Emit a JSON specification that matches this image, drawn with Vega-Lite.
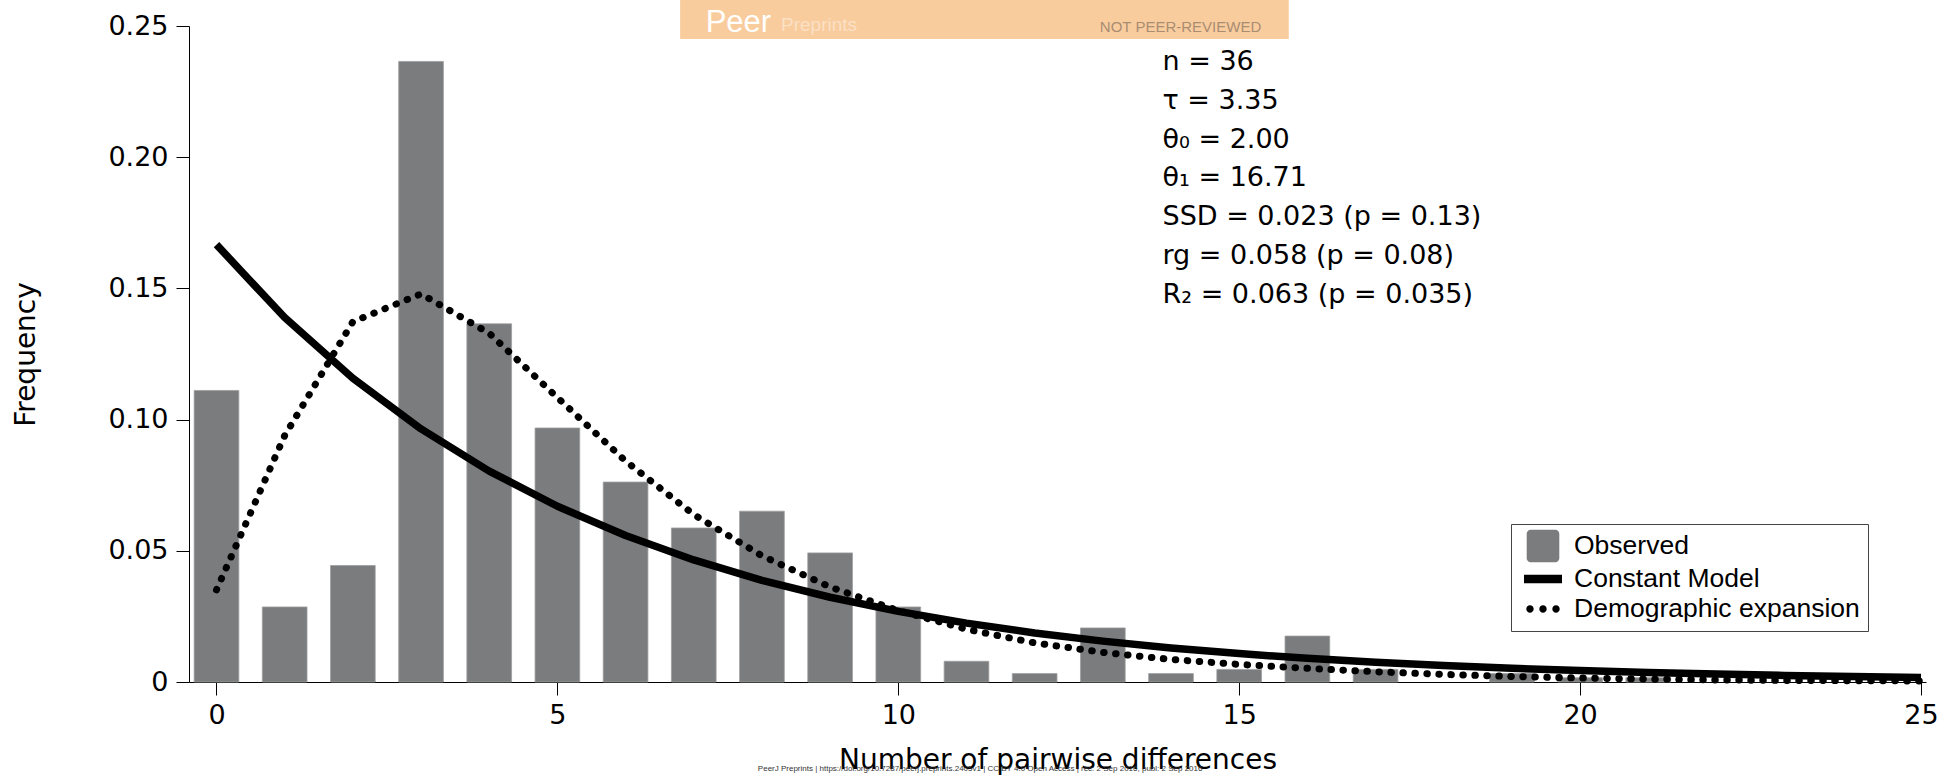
{
  "$schema": "https://vega.github.io/schema/vega-lite/v6.json",
  "width": 1737,
  "height": 656,
  "autosize": {"type": "none"},
  "padding": {"left": 189, "top": 26, "right": 25, "bottom": 98},
  "background": "white",
  "config": {"view": {"stroke": null}, "font": "DejaVu Sans"},
  "datasets": {
    "observed": [
      {"n": 0, "freq": 0.1111, "series": "Observed"},
      {"n": 1, "freq": 0.0286, "series": "Observed"},
      {"n": 2, "freq": 0.0444, "series": "Observed"},
      {"n": 3, "freq": 0.2365, "series": "Observed"},
      {"n": 4, "freq": 0.1365, "series": "Observed"},
      {"n": 5, "freq": 0.0968, "series": "Observed"},
      {"n": 6, "freq": 0.0762, "series": "Observed"},
      {"n": 7, "freq": 0.0587, "series": "Observed"},
      {"n": 8, "freq": 0.0651, "series": "Observed"},
      {"n": 9, "freq": 0.0492, "series": "Observed"},
      {"n": 10, "freq": 0.0286, "series": "Observed"},
      {"n": 11, "freq": 0.0079, "series": "Observed"},
      {"n": 12, "freq": 0.0032, "series": "Observed"},
      {"n": 13, "freq": 0.0206, "series": "Observed"},
      {"n": 14, "freq": 0.0032, "series": "Observed"},
      {"n": 15, "freq": 0.0048, "series": "Observed"},
      {"n": 16, "freq": 0.0175, "series": "Observed"},
      {"n": 17, "freq": 0.0048, "series": "Observed"},
      {"n": 19, "freq": 0.0032, "series": "Observed"},
      {"n": 20, "freq": 0.0016, "series": "Observed"},
      {"n": 21, "freq": 0.0016, "series": "Observed"}
    ],
    "constant": [
      {"n": 0, "freq": 0.16667, "series": "Constant Model"},
      {"n": 1, "freq": 0.13889, "series": "Constant Model"},
      {"n": 2, "freq": 0.11574, "series": "Constant Model"},
      {"n": 3, "freq": 0.09645, "series": "Constant Model"},
      {"n": 4, "freq": 0.08038, "series": "Constant Model"},
      {"n": 5, "freq": 0.06698, "series": "Constant Model"},
      {"n": 6, "freq": 0.05582, "series": "Constant Model"},
      {"n": 7, "freq": 0.04651, "series": "Constant Model"},
      {"n": 8, "freq": 0.03876, "series": "Constant Model"},
      {"n": 9, "freq": 0.0323, "series": "Constant Model"},
      {"n": 10, "freq": 0.02692, "series": "Constant Model"},
      {"n": 11, "freq": 0.02243, "series": "Constant Model"},
      {"n": 12, "freq": 0.01869, "series": "Constant Model"},
      {"n": 13, "freq": 0.01558, "series": "Constant Model"},
      {"n": 14, "freq": 0.01298, "series": "Constant Model"},
      {"n": 15, "freq": 0.01082, "series": "Constant Model"},
      {"n": 16, "freq": 0.00901, "series": "Constant Model"},
      {"n": 17, "freq": 0.00751, "series": "Constant Model"},
      {"n": 18, "freq": 0.00626, "series": "Constant Model"},
      {"n": 19, "freq": 0.00522, "series": "Constant Model"},
      {"n": 20, "freq": 0.00435, "series": "Constant Model"},
      {"n": 21, "freq": 0.00362, "series": "Constant Model"},
      {"n": 22, "freq": 0.00302, "series": "Constant Model"},
      {"n": 23, "freq": 0.00252, "series": "Constant Model"},
      {"n": 24, "freq": 0.0021, "series": "Constant Model"},
      {"n": 25, "freq": 0.00175, "series": "Constant Model"}
    ],
    "expansion": [
      {"n": 0, "freq": 0.0351, "series": "Demographic expansion"},
      {"n": 1, "freq": 0.0939, "series": "Demographic expansion"},
      {"n": 2, "freq": 0.1373, "series": "Demographic expansion"},
      {"n": 3, "freq": 0.1479, "series": "Demographic expansion"},
      {"n": 4, "freq": 0.1329, "series": "Demographic expansion"},
      {"n": 5, "freq": 0.1084, "series": "Demographic expansion"},
      {"n": 6, "freq": 0.0842, "series": "Demographic expansion"},
      {"n": 7, "freq": 0.0638, "series": "Demographic expansion"},
      {"n": 8, "freq": 0.0481, "series": "Demographic expansion"},
      {"n": 9, "freq": 0.0362, "series": "Demographic expansion"},
      {"n": 10, "freq": 0.0272, "series": "Demographic expansion"},
      {"n": 11, "freq": 0.0201, "series": "Demographic expansion"},
      {"n": 12, "freq": 0.0149, "series": "Demographic expansion"},
      {"n": 13, "freq": 0.0113, "series": "Demographic expansion"},
      {"n": 14, "freq": 0.0086, "series": "Demographic expansion"},
      {"n": 15, "freq": 0.0067, "series": "Demographic expansion"},
      {"n": 16, "freq": 0.0052, "series": "Demographic expansion"},
      {"n": 17, "freq": 0.0039, "series": "Demographic expansion"},
      {"n": 18, "freq": 0.0029, "series": "Demographic expansion"},
      {"n": 19, "freq": 0.0021, "series": "Demographic expansion"},
      {"n": 20, "freq": 0.0015, "series": "Demographic expansion"},
      {"n": 21, "freq": 0.0011, "series": "Demographic expansion"},
      {"n": 22, "freq": 0.0008, "series": "Demographic expansion"},
      {"n": 23, "freq": 0.0006, "series": "Demographic expansion"},
      {"n": 24, "freq": 0.0005, "series": "Demographic expansion"},
      {"n": 25, "freq": 0.0004, "series": "Demographic expansion"}
    ]
  },
  "layer": [
    {
      "data": {"values": [{"banner": "PeerJ Preprints"}]},
      "mark": {"type": "rect", "color": "#f9cc9e"},
      "encoding": {
        "x": {"datum": 6.8, "type": "quantitative"},
        "x2": {"datum": 15.727},
        "y": {"datum": 0.2599, "type": "quantitative"},
        "y2": {"datum": 0.24505}
      }
    },
    {
      "data": {"values": [{"label": "Peer"}]},
      "mark": {"type": "text", "align": "left", "baseline": "alphabetic", "font": "Liberation Sans", "fontSize": 31, "color": "#ffffff"},
      "encoding": {
        "x": {"datum": 7.175, "type": "quantitative"},
        "y": {"datum": 0.24783, "type": "quantitative"},
        "text": {"field": "label"}
      }
    },
    {
      "data": {"values": [{"label": "Preprints"}]},
      "mark": {"type": "text", "align": "left", "baseline": "alphabetic", "font": "Liberation Sans", "fontSize": 19, "color": "#fbe0c4"},
      "encoding": {
        "x": {"datum": 8.28, "type": "quantitative"},
        "y": {"datum": 0.2482, "type": "quantitative"},
        "text": {"field": "label"}
      }
    },
    {
      "data": {"values": [{"label": "NOT PEER-REVIEWED"}]},
      "mark": {"type": "text", "align": "left", "baseline": "alphabetic", "font": "Liberation Sans", "fontSize": 15, "color": "#a98d72"},
      "encoding": {
        "x": {"datum": 12.956, "type": "quantitative"},
        "y": {"datum": 0.24783, "type": "quantitative"},
        "text": {"field": "label"}
      }
    },
    {
      "data": {"values": [{"label": "PeerJ Preprints | https://doi.org/10.7287/peerj.preprints.2405v1 | CC BY 4.0 Open Access | rec: 2 Sep 2016, publ: 2 Sep 2016"}]},
      "mark": {"type": "text", "align": "left", "baseline": "alphabetic", "font": "Liberation Sans", "fontSize": 8, "color": "#333333"},
      "encoding": {
        "x": {"datum": 7.94, "type": "quantitative"},
        "y": {"datum": -0.0339, "type": "quantitative"},
        "text": {"field": "label"}
      }
    },
    {
      "data": {"name": "observed"},
      "mark": {"type": "bar", "orient": "vertical", "width": 44.7, "stroke": "#9d9ea0", "strokeWidth": 0.8},
      "encoding": {
        "x": {
          "field": "n",
          "type": "quantitative",
          "scale": {"domain": [-0.33, 25], "nice": false, "zero": false},
          "axis": {
            "values": [0, 5, 10, 15, 20, 25],
            "format": "d",
            "title": "Number of pairwise differences",
            "grid": false,
            "tickSize": 13,
            "tickColor": "#000000",
            "domainColor": "#000000",
            "labelColor": "#000000",
            "labelFont": "DejaVu Sans",
            "labelFontSize": 27,
            "labelPadding": 7,
            "labelFlush": false,
            "labelOverlap": false,
            "titleFont": "DejaVu Sans",
            "titleFontSize": 28,
            "titleFontWeight": "normal",
            "titleColor": "#000000",
            "titleY": 86,
            "titleBaseline": "alphabetic"
          }
        },
        "y": {
          "field": "freq",
          "type": "quantitative",
          "stack": null,
          "scale": {"domain": [0, 0.25], "nice": false},
          "axis": {
            "values": [0, 0.05, 0.1, 0.15, 0.2, 0.25],
            "labelExpr": "datum.value === 0 ? '0' : format(datum.value, '.2f')",
            "title": "Frequency",
            "grid": false,
            "tickSize": 13,
            "tickColor": "#000000",
            "domainColor": "#000000",
            "labelColor": "#000000",
            "labelFont": "DejaVu Sans",
            "labelFontSize": 27,
            "labelPadding": 8,
            "labelFlush": false,
            "titleFont": "DejaVu Sans",
            "titleFontSize": 28,
            "titleFontWeight": "normal",
            "titleColor": "#000000",
            "titleX": -149,
            "titleY": 328,
            "titleAngle": 270,
            "titleBaseline": "bottom",
            "titleAlign": "center"
          }
        },
        "color": {
          "field": "series",
          "type": "nominal",
          "scale": {"domain": ["Observed", "Constant Model", "Demographic expansion"], "range": ["#7b7c7e", "#000000", "#000000"]},
          "legend": {
            "title": null,
            "orient": "none",
            "legendX": 1322,
            "legendY": 498,
            "padding": 8,
            "strokeColor": "#444444",
            "fillColor": "#ffffff",
            "symbolSize": 784,
            "symbolStrokeWidth": 0,
            "symbolOffset": 10,
            "symbolType": {"expr": "datum.value === 'Observed' ? 'M-0.878,-1.164H0.878A0.286,0.286,0,0,1,1.164,-0.878V0.878A0.286,0.286,0,0,1,0.878,1.164H-0.878A0.286,0.286,0,0,1,-1.164,0.878V-0.878A0.286,0.286,0,0,1,-0.878,-1.164Z' : datum.value === 'Constant Model' ? 'M-1.357,-0.31H1.357V0.31H-1.357Z' : 'M-1.193,0A0.264,0.264,0,1,0,-0.665,0A0.264,0.264,0,1,0,-1.193,0ZM-0.264,0A0.264,0.264,0,1,0,0.264,0A0.264,0.264,0,1,0,-0.264,0ZM0.665,0A0.264,0.264,0,1,0,1.193,0A0.264,0.264,0,1,0,0.665,0Z'"},
            "labelOffset": 17,
            "labelFont": "Liberation Sans",
            "labelFontSize": 26.5,
            "labelColor": "#000000",
            "labelLimit": 500,
            "rowPadding": 2
          }
        }
      }
    },
    {
      "data": {"name": "expansion"},
      "mark": {"type": "line", "strokeWidth": 7, "strokeDash": [0.5, 11.5], "strokeCap": "round"},
      "encoding": {
        "x": {"field": "n", "type": "quantitative"},
        "y": {"field": "freq", "type": "quantitative"},
        "color": {"field": "series", "type": "nominal"}
      }
    },
    {
      "data": {"name": "constant"},
      "mark": {"type": "line", "strokeWidth": 7.5, "strokeJoin": "round"},
      "encoding": {
        "x": {"field": "n", "type": "quantitative"},
        "y": {"field": "freq", "type": "quantitative"},
        "color": {"field": "series", "type": "nominal"}
      }
    },
    {
      "data": {"values": [{"stats": ["n = 36", "τ = 3.35", "θ₀ = 2.00", "θ₁ = 16.71", "SSD = 0.023 (p = 0.13)", "rg = 0.058 (p = 0.08)", "R₂ = 0.063 (p = 0.035)"]}]},
      "mark": {"type": "text", "align": "left", "baseline": "alphabetic", "font": "DejaVu Sans", "fontSize": 27, "lineHeight": 38.8, "color": "#000000"},
      "encoding": {
        "x": {"datum": 13.875, "type": "quantitative"},
        "y": {"datum": 0.2332, "type": "quantitative"},
        "text": {"field": "stats"}
      }
    }
  ]
}
